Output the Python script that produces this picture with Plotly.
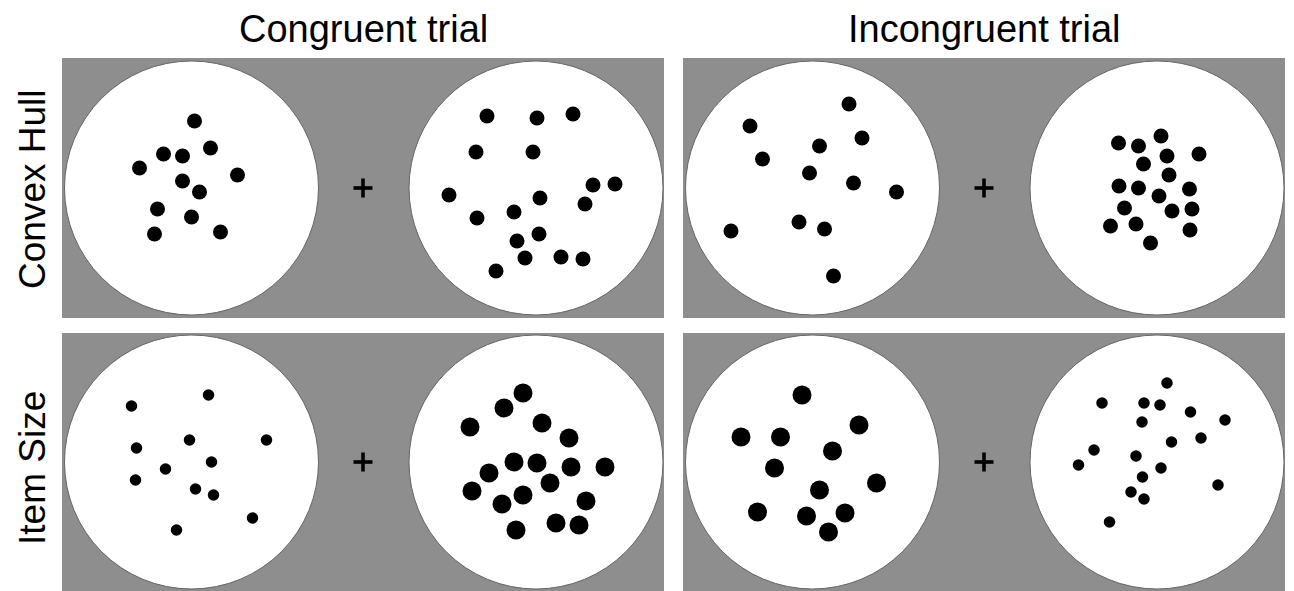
import plotly.graph_objects as go

# ---------------- data: dot offsets (px) from each display's centre, y downward ----------------
col_titles = ["Congruent trial", "Incongruent trial"]
row_titles = ["Convex Hull", "Item Size"]

ch_cong_left_x = [3, 19, -28, -9, -52, 46, -9, 8, -34, 0, -37, 29]
ch_cong_left_y = [-67, -40, -34, -32, -20, -13, -7, 4, 21, 29, 46, 44]
ch_cong_right_x = [-49, 1, 37, -60, -3, 57, 79, -87, 4, 49, -22, -59, 3, -19, -11, 25, 47, -40]
ch_cong_right_y = [-72, -70, -74, -36, -36, -3, -4, 7, 10, 16, 24, 30, 46, 53, 70, 69, 71, 83]

ch_incg_left_x = [36.5, -62.5, 49.5, 7, -50, -3, 41, 84, -13.5, 12, -81.5, 21]
ch_incg_left_y = [-84, -62, -50, -42, -29, -15, -5, 4, 34, 41, 43, 88]
ch_incg_right_x = [4, -38.5, -18.5, 10, 42, -13.5, 12, -38, -18.5, 2, 32.5, -32.5, 15, 35, -46.5, -21, 33, -6.5]
ch_incg_right_y = [-52, -45, -42, -32, -34, -24, -13, -2, 0, 8, 1, 20, 23, 21, 38, 36, 42, 55]

is_cong_left_x = [17, -60, -2, 75, -55, 20, -26, -56, 4, 22, 61, -15]
is_cong_left_y = [-67, -56, -22, -22, -14, 0, 7, 18, 27, 33, 56, 68]
is_cong_right_x = [-13, -32, -66, 6, 33, -22, 1, 35, 69, -47, 14, -64, -13, -34, 50, -20, 20, 43]
is_cong_right_y = [-69, -54, -35, -39, -24, 0, 1, 5, 5, 11, 21, 29, 33, 42, 39, 68, 61, 63]

is_incg_left_x = [-10.5, 46.5, -71.5, -32, 20, -38, 64, 7, -55, -6, 32.5, 16]
is_incg_left_y = [-67, -37, -25, -25, -11, 6, 21, 28, 50, 54, 51, 70]
is_incg_right_x = [10, -55, -13, 3, 33.5, 68, -15, 44, 14.5, -63, -21, -78.5, 4, -14.5, 61, -26, -13, -47.5]
is_incg_right_y = [-79, -59, -59, -57, -50, -42, -40, -24, -20, -12, -6, 3, 6, 15, 23, 30, 37, 60]

# ---------------- layout / style ----------------
W, H = 1294, 591
GRAY = "#8e8e8e"
panel_x = [62, 683]          # left edges of panel columns
panel_w = 602
panel_y = [58, 333]          # top edges of panel rows
panel_h = [260, 262]
circle_dx = [129.5, 474]     # circle centres relative to panel left
circle_cy = [188, 462]
row_label_y = [190, 468]
R = 127
plus_dx = 301
plus_len = 19
plus_thick = 3.6
dot_diam = {"medium": 15, "small": 11.5, "large": 19}

stimuli = [
    # (row, col, side, xs, ys, size)
    (0, 0, 0, ch_cong_left_x, ch_cong_left_y, "medium"),
    (0, 0, 1, ch_cong_right_x, ch_cong_right_y, "medium"),
    (0, 1, 0, ch_incg_left_x, ch_incg_left_y, "medium"),
    (0, 1, 1, ch_incg_right_x, ch_incg_right_y, "medium"),
    (1, 0, 0, is_cong_left_x, is_cong_left_y, "small"),
    (1, 0, 1, is_cong_right_x, is_cong_right_y, "large"),
    (1, 1, 0, is_incg_left_x, is_incg_left_y, "large"),
    (1, 1, 1, is_incg_right_x, is_incg_right_y, "small"),
]

fig = go.Figure()
shapes = []
annotations = []

for r in range(2):
    for c in range(2):
        x0 = panel_x[c]
        y0 = panel_y[r]
        shapes.append(dict(type="rect", xref="x", yref="y", x0=x0, x1=x0 + panel_w,
                           y0=y0, y1=y0 + panel_h[r], fillcolor=GRAY, line=dict(width=0),
                           layer="below"))
        for s in range(2):
            cx = x0 + circle_dx[s]
            cy = circle_cy[r]
            shapes.append(dict(type="circle", xref="x", yref="y", x0=cx - R, x1=cx + R,
                               y0=cy - R, y1=cy + R, fillcolor="white",
                               line=dict(color="#666666", width=1), layer="below"))
        # fixation cross
        px, py = x0 + plus_dx, circle_cy[r]
        shapes.append(dict(type="rect", xref="x", yref="y",
                           x0=px - plus_len / 2, x1=px + plus_len / 2,
                           y0=py - plus_thick / 2, y1=py + plus_thick / 2,
                           fillcolor="black", line=dict(width=0)))
        shapes.append(dict(type="rect", xref="x", yref="y",
                           x0=px - plus_thick / 2, x1=px + plus_thick / 2,
                           y0=py - plus_len / 2, y1=py + plus_len / 2,
                           fillcolor="black", line=dict(width=0)))

for (r, c, s, xs, ys, sz) in stimuli:
    cx = panel_x[c] + circle_dx[s]
    cy = circle_cy[r]
    fig.add_trace(go.Scatter(
        x=[cx + v for v in xs], y=[cy + v for v in ys], mode="markers",
        marker=dict(size=dot_diam[sz], color="black", line=dict(width=0)),
        hoverinfo="skip", showlegend=False))

for c, t in enumerate(col_titles):
    annotations.append(dict(x=panel_x[c] + panel_w / 2, y=29, xref="x", yref="y", text=t,
                            showarrow=False,
                            font=dict(size=38, color="black", family="Liberation Sans")))
for r, t in enumerate(row_titles):
    annotations.append(dict(x=32, y=row_label_y[r], xref="x", yref="y", text=t, textangle=-90,
                            showarrow=False,
                            font=dict(size=37, color="black", family="Liberation Sans")))

fig.update_layout(
    width=W, height=H, margin=dict(l=0, r=0, t=0, b=0),
    paper_bgcolor="white", plot_bgcolor="white",
    xaxis=dict(range=[0, W], visible=False, fixedrange=True),
    yaxis=dict(range=[H, 0], visible=False, fixedrange=True),
    shapes=shapes, annotations=annotations,
)

fig.write_html("out.html", config={"displayModeBar": False},
               post_script="document.body.style.margin='0';document.body.style.overflow='hidden';")
